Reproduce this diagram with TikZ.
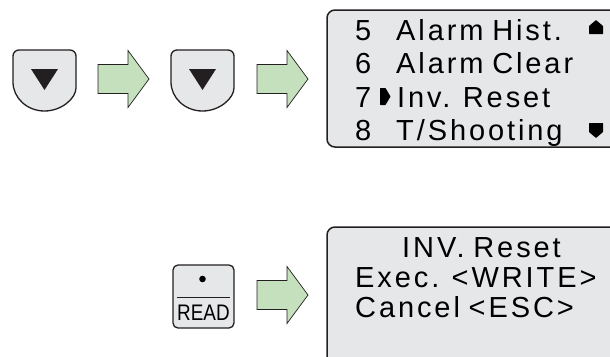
\documentclass[tikz,border=0pt]{standalone}
\usepackage{fontspec}
\setmainfont{Liberation Sans}
\newfontfamily\lcdfont{Liberation Sans}[LetterSpace=10,WordSpace=0.8]
\newfontfamily\keyfont{Liberation Sans}
\definecolor{panelgrey}{HTML}{E6E7E8}
\definecolor{arrowgreen}{HTML}{C5E0BD}
\definecolor{inkline}{HTML}{231F20}
\tikzset{
  keyline/.style={draw=inkline, line width=1.3pt, fill=panelgrey},
  lcdbox/.style={draw=inkline, line width=1.5pt, fill=panelgrey, rounded corners=8pt},
  greenarrow/.style={draw=inkline, line width=0.7pt, fill=arrowgreen},
  lcdtext/.style={anchor=base west, inner sep=0pt, font=\lcdfont\fontsize{29}{29}\selectfont, text=black},
  marker/.style={fill=black, rounded corners=0.5pt},
  pics/downkey/.style={code={
    \draw[keyline] (-31.5,32) [rounded corners=6pt] -- (-31.5,0) -- (31.5,0) -- (31.5,32) [sharp corners]
      .. controls (31.5,48) and (17.4,61) .. (0,61)
      .. controls (-17.4,61) and (-31.5,48) .. (-31.5,32) -- cycle;
    \fill[inkline] (-13.5,19) -- (13.5,19) -- (0,40) -- cycle;
  }},
  pics/blockarrow/.style={code={
    \draw[greenarrow] (0,-14.5) -- (30,-14.5) -- (30,-28.5) -- (51,0) -- (30,28.5) -- (30,14.5) -- (0,14.5) -- cycle;
  }}
}
\begin{document}
\begin{tikzpicture}[x=1pt,y=-1pt]
\useasboundingbox (0,0) rectangle (610,356);
\clip (0,0) rectangle (610,356);
\fill[white] (0,0) rectangle (610,356);

% keys
\pic (keyA) at (44.5,50) {downkey};
\pic (arrA) at (98,79) {blockarrow};
\pic (keyB) at (202.5,50) {downkey};
\pic (arrB) at (257,79) {blockarrow};

% top display
\draw[lcdbox] (327,10) rectangle (640,147);
\node[lcdtext] (n5) at (355,40) {5};
\node[lcdtext] (t5) at (396,40) {Alarm Hist.};
\node[lcdtext] (n6) at (355,73.5) {6};
\node[lcdtext] (t6) at (396,73.5) {Alarm Clear};
\node[lcdtext] (n7) at (355,107) {7};
\node[lcdtext] (t7) at (397,107) {Inv. Reset};
\node[lcdtext] (n8) at (355,140) {8};
\node[lcdtext] (t8) at (396,140) {T/Shooting};
\fill[marker] (380,88) -- (385.5,88) -- (390.5,96.5) -- (385.5,105) -- (380,105) -- cycle;
\fill[marker] (589,34) -- (603,34) -- (603,26) -- (596,20) -- (589,26) -- cycle;
\fill[marker] (589,123) -- (603,123) -- (603,132) -- (596,138) -- (589,132) -- cycle;

% READ key
\draw[keyline, rounded corners=5pt] (173,265) rectangle (234,328);
\draw[inkline, line width=0.8pt] (177,297) -- (230,297);
\fill[black] (202.5,279) circle (3.3);
\node[anchor=base, inner sep=0pt, font=\keyfont\fontsize{22.5}{22.5}\selectfont] (readlbl) at (203.5,320) {\scalebox{0.84}[1]{READ}};
\pic (arrC) at (257,295) {blockarrow};

% bottom display
\draw[lcdbox] (327,227) rectangle (640,380);
\node[lcdtext] (b1) at (402,257) {INV. Reset};
\node[lcdtext] (b2) at (355,287) {Exec. <WRITE>};
\node[lcdtext] (b3) at (355,317) {Cancel <ESC>};
\end{tikzpicture}
\end{document}
